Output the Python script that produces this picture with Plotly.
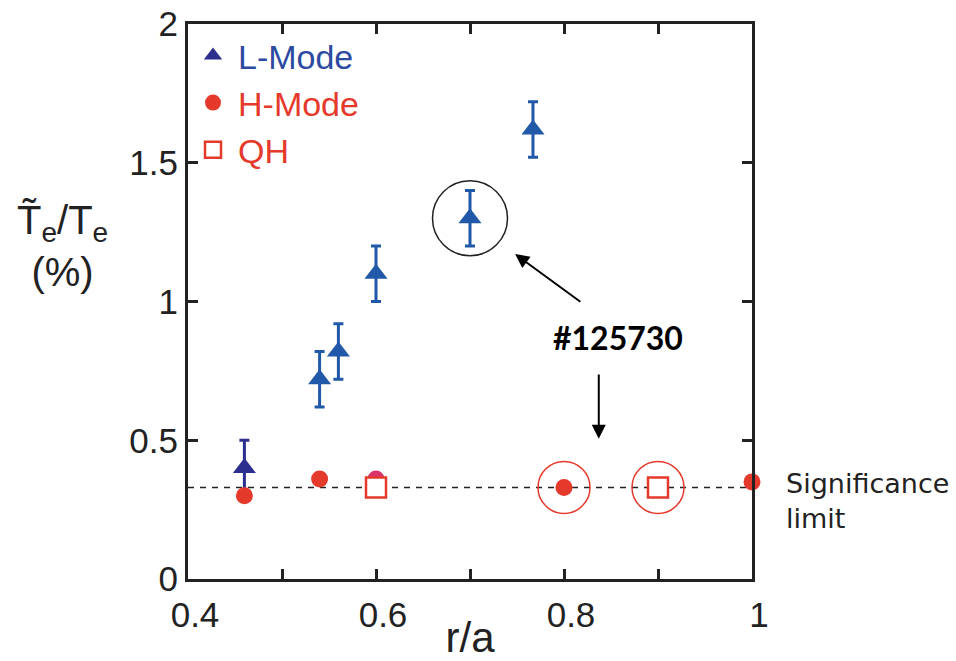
import plotly.graph_objects as go

# Electron temperature fluctuation level vs normalized radius
l_mode_r = [0.46, 0.54, 0.56, 0.60, 0.70, 0.767]
l_mode_val = [0.40, 0.72, 0.82, 1.10, 1.30, 1.62]
l_mode_err = [0.10, 0.10, 0.10, 0.10, 0.10, 0.10]

h_mode_r = [0.46, 0.54, 0.60, 0.80, 1.00]
h_mode_val = [0.30, 0.36, 0.36, 0.33, 0.35]

qh_r = [0.60, 0.90]
qh_val = [0.33, 0.33]

SIGNIFICANCE_LIMIT = 0.33
SHOT_LABEL = "#125730"

x_tick_vals = [0.4, 0.6, 0.8, 1.0]
x_tick_text = ["0.4", "0.6", "0.8", "1"]
y_tick_vals = [0, 0.5, 1, 1.5, 2]
y_tick_text = ["0", "0.5", "1", "1.5", "2"]

NAVY = "#2c2f8e"
BLUE = "#2158a8"
RED = "#e5392c"
PINK = "#d8336a"
INK = "#222"
TICK_FONT = "Liberation Sans, Arial, sans-serif"
NOTE_FONT = "Lato, Open Sans, sans-serif"

fig = go.Figure()

# L-mode (triangles with error bars); innermost point in navy
fig.add_trace(go.Scatter(
    x=l_mode_r[:1], y=l_mode_val[:1], mode="markers",
    name='<span style="color:#2c4aa0">L-Mode</span>',
    legendgroup="L", legendrank=1,
    marker=dict(symbol="triangle-up", size=20, color=NAVY),
    error_y=dict(type="data", array=l_mode_err[:1], color=NAVY,
                 thickness=3, width=5),
))
fig.add_trace(go.Scatter(
    x=l_mode_r[1:], y=l_mode_val[1:], mode="markers",
    name="L-Mode", legendgroup="L", showlegend=False,
    marker=dict(symbol="triangle-up", size=20, color=BLUE),
    error_y=dict(type="data", array=l_mode_err[1:], color=BLUE,
                 thickness=3, width=5),
))

# H-mode (filled circles); the 0.6 point sits behind a QH square
h_colors = [RED, RED, PINK, RED, RED]
fig.add_trace(go.Scatter(
    x=h_mode_r, y=h_mode_val, mode="markers",
    name=f'<span style="color:{RED}">H-Mode</span>',
    marker=dict(symbol="circle", size=17, color=h_colors),
    cliponaxis=False, legendrank=2,
))

# QH (open squares)
fig.add_trace(go.Scatter(
    x=qh_r, y=qh_val, mode="markers",
    name=f'<span style="color:{RED}">QH</span>',
    marker=dict(symbol="square", size=20, color="white",
                line=dict(width=2.5, color=RED)),
    cliponaxis=False, legendrank=3,
))

# Highlight rings for discharge #125730
fig.add_trace(go.Scatter(
    x=[l_mode_r[4]], y=[l_mode_val[4]], mode="markers", showlegend=False,
    marker=dict(symbol="circle-open", size=75, color=INK,
                line=dict(width=1.5, color=INK)),
    hoverinfo="skip",
))
fig.add_trace(go.Scatter(
    x=[h_mode_r[3], qh_r[1]], y=[h_mode_val[3], qh_val[1]], mode="markers",
    showlegend=False,
    marker=dict(symbol="circle-open", size=52, color=RED,
                line=dict(width=1.5, color=RED)),
    hoverinfo="skip",
))

# Significance limit
fig.add_shape(type="line", xref="paper", x0=0, x1=1, yref="y",
              y0=SIGNIFICANCE_LIMIT, y1=SIGNIFICANCE_LIMIT,
              line=dict(color=INK, width=1.6, dash="6px,6px"),
              layer="below")

fig.add_annotation(
    xref="paper", x=1.056, yref="y", y=SIGNIFICANCE_LIMIT - 0.05,
    text="Significance<br>limit", showarrow=False, xanchor="left",
    yanchor="middle", align="left",
    font=dict(family="DejaVu Sans, sans-serif", size=27, color=INK),
)

# Shot label with arrows
fig.add_annotation(
    x=0.857, y=0.872, text=f"<b>{SHOT_LABEL}</b>", showarrow=False,
    font=dict(family=NOTE_FONT, size=32, color="black"),
)
fig.add_annotation(
    x=0.748, y=1.171, ax=0.819, ay=0.995, axref="x", ayref="y",
    text="", showarrow=True, arrowhead=2, arrowsize=1.4, arrowwidth=2,
    arrowcolor="black",
)
fig.add_annotation(
    x=0.837, y=0.505, ax=0.837, ay=0.742, axref="x", ayref="y",
    text="", showarrow=True, arrowhead=2, arrowsize=1.4, arrowwidth=2,
    arrowcolor="black",
)

# Y-axis title: T~_e / T_e (%)
fig.add_annotation(
    xref="paper", yref="paper", x=-0.2234, y=0.60,
    xanchor="center", yanchor="middle",
    text="T\u0303<sub>e</sub>/T<sub>e</sub><br>(%)", showarrow=False,
    font=dict(family=TICK_FONT, size=40, color=INK),
    align="center",
)

axis_common = dict(
    showline=True, linecolor=INK, linewidth=3, mirror="ticks",
    ticks="inside", ticklen=10, tickwidth=2.5, tickcolor=INK,
    showgrid=False, zeroline=False, automargin=False,
    tickfont=dict(family=TICK_FONT, size=35, color=INK),
)

fig.update_xaxes(
    range=[0.4, 1.0], tickvals=x_tick_vals, ticktext=x_tick_text,
    minor=dict(dtick=0.1, ticks="inside", ticklen=10, tickwidth=2.5,
               tickcolor=INK),
    ticklabelstandoff=3, ticklabelshift=7,
    title=dict(text="r/a", font=dict(family=TICK_FONT, size=42, color=INK),
               standoff=4),
    **axis_common,
)
fig.update_yaxes(
    range=[0, 2], tickvals=y_tick_vals, ticktext=y_tick_text,
    **axis_common,
)

fig.update_layout(
    width=956, height=661,
    margin=dict(l=188, r=204, t=24, b=82),
    plot_bgcolor="white", paper_bgcolor="white",
    legend=dict(x=0.0, y=0.995, xanchor="left", yanchor="top",
                bgcolor="rgba(0,0,0,0)", borderwidth=0,
                font=dict(family=TICK_FONT, size=34),
                itemwidth=40, tracegroupgap=0),
    showlegend=True,
)

fig.write_html("out.html")
